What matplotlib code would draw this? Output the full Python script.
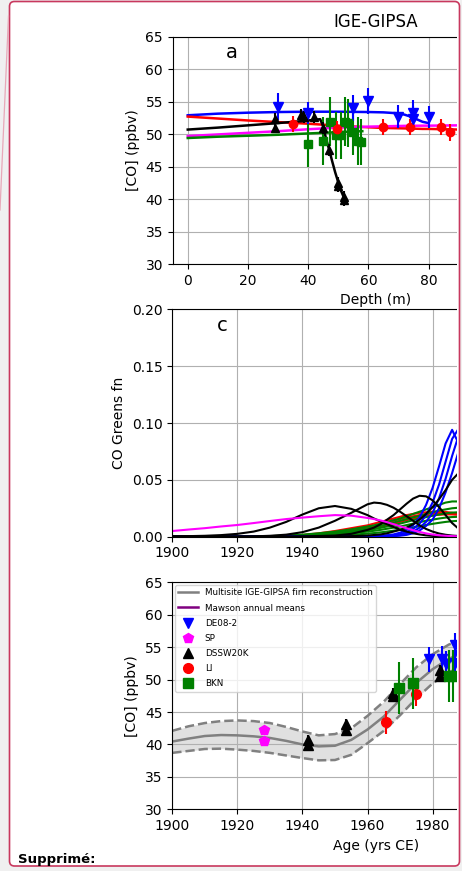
import matplotlib
matplotlib.use('Agg')
import matplotlib.pyplot as plt
from matplotlib.patches import FancyBboxPatch, Rectangle

# ---- panel a: [CO] vs depth, firn model lines and measurements ----
depth_grid = [0, 10, 20, 30, 40, 50, 60, 65, 70, 72, 74, 76, 78, 80, 90, 100, 110, 120]
de08_line = [52.9, 53.15, 53.3, 53.4, 53.45, 53.45, 53.4, 53.35, 53.2, 53.0, 52.7, 52.3, 51.9, 51.7]
li_line = [52.7, 52.4, 52.1, 51.85, 51.6, 51.3, 51.05, 50.95, 50.9, 50.88, 50.85, 50.83, 50.8, 50.8, 50.7, 50.6, 50.5, 50.4]
sp_line = [49.7, 49.95, 50.2, 50.45, 50.75, 51.0, 51.15, 51.2, 51.25, 51.27, 51.28, 51.29, 51.3, 51.3, 51.35, 51.4, 51.4, 51.4]
bkn_depth = [0, 10, 20, 30, 40, 50, 55, 58]
bkn_line = [49.4, 49.6, 49.75, 49.9, 50.1, 50.3, 50.4, 50.45]
dssw_depth = [0, 10, 20, 30, 38, 42, 44, 45, 46, 47, 48, 49, 50, 51, 52]
dssw_line = [50.7, 51.0, 51.35, 51.7, 52.0, 52.2, 52.3, 51.2, 49.2, 47.6, 45.8, 44.1, 42.6, 41.2, 40.1]

de08_z = [30, 40, 55, 60, 70, 75, 75, 80]
de08_co = [54.2, 53.3, 54.0, 55.1, 52.7, 53.3, 52.4, 52.7]
de08_err = [2.1, 1.7, 2.0, 2.0, 1.8, 1.9, 1.9, 1.7]
li_z = [35, 49.5, 65, 74, 84, 87]
li_co = [51.6, 50.8, 51.1, 51.1, 51.1, 50.3]
li_err = [1.2, 1.2, 1.2, 1.3, 1.3, 1.3]
bkn_z = [40, 44.8, 47.4, 49.4, 50.8, 52.2, 53.3, 54.9, 56.6, 57.7]
bkn_co = [48.5, 48.9, 51.9, 49.8, 49.8, 51.9, 51.7, 50.4, 49.0, 48.8]
bkn_err = [3.6, 3.7, 3.8, 3.6, 3.6, 3.8, 3.7, 3.6, 3.7, 3.6]
dssw_z = [29, 29, 37.5, 38.5, 42, 45, 47, 49.8, 50, 51.8, 52]
dssw_co = [52.3, 51.0, 52.9, 52.6, 52.6, 50.9, 47.6, 42.5, 42.0, 40.3, 39.9]
dssw_err = [0.9, 0.9, 0.9, 0.9, 0.9, 0.9, 0.9, 0.9, 0.9, 0.9, 0.9]

# ---- panel c: Greens functions vs age ----
gf_years = [1900, 1905, 1910, 1915, 1920, 1925, 1930, 1935, 1940, 1945, 1950, 1955,
            1960, 1962, 1964, 1966, 1968, 1970, 1972, 1974, 1976, 1978, 1980, 1982,
            1984, 1986, 1988, 1990, 1992, 1994, 1996, 1998, 2000]
gf_sp = [[.005, .0063, .0075, .009, .0103, .012, .0138, .0155, .0168, .018, .019, .0185,
          .0165, .0155, .0143, .0128, .011, .0092, .0074, .0057, .0042, .0029, .0019, .0012,
          .0008, .0005, .0003, .0002, .0001, .0001, 0, 0, 0]]
gf_dssw = [
    [.0003, .0005, .0008, .0014, .0025, .0045, .008, .013, .0195, .025, .027, .0245,
     .019, .016, .0135, .011, .0085, .0062, .0045, .003, .002, .0012, .0007, .0004,
     .0002, .0001, 0, 0, 0, 0, 0, 0, 0],
    [0, 0, 0, 0, .0001, .0003, .0008, .0018, .004, .008, .014, .021,
     .0285, .030, .0295, .028, .0255, .022, .018, .014, .010, .0068, .0045, .0028,
     .0017, .001, .0006, .0003, .0002, .0001, 0, 0, 0],
    [0, 0, 0, 0, 0, 0, 0, .0001, .0003, .0006, .001, .0025,
     .006, .008, .011, .015, .019, .024, .029, .0335, .036, .0355, .032, .026,
     .019, .012, .007, .004, .002, .001, .0005, .0002, 0],
    [0, 0, 0, 0, 0, 0, 0, 0, 0, .0001, .0002, .0005,
     .001, .0015, .002, .003, .0045, .006, .008, .011, .015, .02, .026, .033,
     .041, .050, .056, .055, .047, .035, .022, .012, .006],
]
gf_li = [
    [0, 0, 0, 0, 0, 0, .0003, .0008, .0015, .003, .005, .0075,
     .010, .0115, .013, .0145, .016, .0175, .019, .020, .021, .0215, .022, .022,
     .0218, .021, .0195, .0175, .015, .012, .009, .006, .004],
    [0, 0, 0, 0, 0, 0, .0001, .0004, .001, .002, .0035, .0055,
     .008, .0095, .011, .0125, .014, .0155, .017, .018, .019, .0198, .0205, .0208,
     .0208, .0205, .0198, .018, .016, .013, .010, .007, .005],
    [0, 0, 0, 0, 0, 0, 0, .0002, .0006, .0012, .0022, .0038,
     .006, .007, .0085, .010, .0115, .013, .0145, .016, .017, .018, .0188, .0193,
     .0196, .0196, .0192, .018, .0165, .014, .011, .008, .006],
]
gf_bkn = [
    [0, 0, 0, 0, 0, .0002, .0005, .001, .0018, .003, .0045, .0065,
     .009, .010, .0115, .013, .0145, .016, .018, .020, .022, .024, .026, .028,
     .030, .031, .031, .030, .027, .023, .018, .013, .009],
    [0, 0, 0, 0, 0, .0001, .0003, .0007, .0013, .0022, .0035, .005,
     .0072, .0082, .0095, .011, .0125, .014, .0155, .017, .0185, .020, .0215, .023,
     .024, .025, .0255, .025, .023, .020, .016, .012, .008],
    [0, 0, 0, 0, 0, 0, .0002, .0005, .001, .0017, .0028, .004,
     .0058, .0067, .0078, .009, .0102, .0115, .013, .0145, .016, .0172, .0185, .0195,
     .0205, .0212, .0215, .021, .0195, .017, .014, .011, .008],
    [0, 0, 0, 0, 0, 0, .0001, .0003, .0007, .0012, .002, .003,
     .0045, .0052, .006, .007, .008, .009, .0102, .0115, .0128, .014, .015, .016,
     .0168, .0173, .0175, .0172, .016, .0142, .012, .0095, .007],
    [0, 0, 0, 0, 0, 0, 0, .0001, .0003, .0006, .001, .0017,
     .0027, .0032, .0038, .0045, .0053, .0062, .0072, .0082, .0093, .0103, .0113, .0122,
     .013, .0136, .014, .014, .0132, .012, .0103, .0085, .0065],
]
gf_de08 = [
    [0, 0, 0, 0, 0, 0, 0, 0, 0, 0, 0, .0001,
     .0003, .0005, .0008, .0013, .002, .0035, .006, .010, .017, .028, .043, .062,
     .082, .094, .082, .052, .027, .012, .005, .002, .001],
    [0, 0, 0, 0, 0, 0, 0, 0, 0, 0, 0, 0,
     .0002, .0003, .0005, .0008, .0013, .0022, .004, .0068, .0115, .019, .030, .046,
     .066, .086, .095, .080, .050, .026, .012, .005, .002],
    [0, 0, 0, 0, 0, 0, 0, 0, 0, 0, 0, 0,
     .0001, .0002, .0003, .0005, .0008, .0014, .0025, .0045, .008, .013, .021, .034,
     .051, .071, .089, .094, .078, .050, .026, .012, .005],
    [0, 0, 0, 0, 0, 0, 0, 0, 0, 0, 0, 0,
     0, .0001, .0002, .0003, .0005, .0009, .0016, .003, .0055, .0095, .015, .025,
     .039, .056, .075, .090, .093, .076, .050, .027, .012],
]

# ---- panel e: reconstruction and age-assigned firn data ----
rec_years = [1900, 1905, 1910, 1915, 1920, 1925, 1930, 1935, 1940, 1945, 1950, 1955,
             1960, 1965, 1970, 1975, 1980, 1985, 1990, 1995, 2000]
rec_mid = [40.45, 40.9, 41.3, 41.45, 41.4, 41.25, 41.0, 40.55, 40.0, 39.7, 39.8, 40.7,
           42.3, 44.3, 46.9, 49.5, 51.6, 53.2, 54.3, 54.9, 55.1]
rec_hi = [42.1, 42.8, 43.3, 43.6, 43.7, 43.6, 43.3, 42.7, 42.0, 41.4, 41.6, 42.5,
          44.4, 46.6, 49.3, 51.9, 53.9, 55.4, 56.3, 56.8, 57.0]
rec_lo = [38.7, 39.0, 39.3, 39.35, 39.2, 39.0, 38.7, 38.3, 37.9, 37.55, 37.6, 38.4,
          40.2, 42.1, 44.5, 47.1, 49.4, 51.1, 52.3, 53.0, 53.2]

de08_age = [1979, 1982.8, 1984, 1986.9, 1986.9, 1988]
de08_age_co = [53.1, 53.2, 52.4, 55.4, 52.6, 53.8]
de08_age_err = [1.9, 2.0, 2.0, 1.8, 2.0, 2.0]
sp_age = [1928.3, 1928.3]
sp_age_co = [42.2, 40.5]
sp_age_err = [0.7, 0.7]
dssw_age = [1941.7, 1941.7, 1953.4, 1953.4, 1967.9, 1967.9, 1982.3, 1982.3]
dssw_age_co = [40.7, 39.95, 43.1, 42.2, 47.9, 47.4, 51.5, 50.6]
dssw_age_err = [0.8, 0.8, 0.8, 0.8, 0.8, 0.8, 0.8, 0.8]
li_age = [1965.6, 1974.9]
li_age_co = [43.4, 47.8]
li_age_err = [1.8, 1.9]
bkn_age = [1969.7, 1974.1, 1985.1, 1986.3]
bkn_age_co = [48.7, 49.4, 50.6, 50.6]
bkn_age_err = [4.0, 4.0, 4.0, 4.0]


W, H = 462, 871
fig = plt.figure(figsize=(W / 100, H / 100), dpi=100)
fig.patch.set_facecolor('#f0f0f0')

red = '#c8385e'

# comment balloon background
bg = fig.add_axes([0, 0, 1, 1], zorder=-10)
bg.set_xlim(0, W)
bg.set_ylim(H, 0)
bg.axis('off')
bg.add_patch(FancyBboxPatch((9.5, 1.5), 450, 864.5,
                            boxstyle='round,pad=0,rounding_size=5', fc='white', ec='none'))


def box(left, top, right, bottom):
    return [left / W, 1 - bottom / H, (right - left) / W, (bottom - top) / H]


plt.rcParams['font.size'] = 10

# panel a
ax = fig.add_axes(box(172.7, 36.7, 579, 264))
ax.plot(depth_grid[:len(de08_line)], de08_line, color='blue', lw=1.8)
ax.plot(depth_grid, li_line, color='red', lw=1.8)
ax.plot(depth_grid, sp_line, color='magenta', lw=1.8)
ax.plot(bkn_depth, bkn_line, color='green', lw=1.8)
ax.plot(dssw_depth, dssw_line, color='black', lw=1.8)
ax.errorbar(bkn_z, bkn_co, yerr=bkn_err, fmt='s', color='green', ms=6, elinewidth=1.5)
ax.errorbar(li_z, li_co, yerr=li_err, fmt='o', color='red', ms=6, elinewidth=1.5)
ax.errorbar(dssw_z, dssw_co, yerr=dssw_err, fmt='^', color='black', ms=6, elinewidth=1.5)
ax.errorbar(de08_z, de08_co, yerr=de08_err, fmt='v', color='blue', ms=7, elinewidth=1.5)
ax.set_xlim(-5, 130)
ax.set_ylim(30, 65)
ax.set_xticks([0, 20, 40, 60, 80])
ax.set_yticks([30, 35, 40, 45, 50, 55, 60, 65])
ax.grid(True)
ax.set_xlabel('Depth (m)')
ax.set_ylabel('[CO] (ppbv)')
ax.set_title('IGE-GIPSA', fontsize=12, pad=7)
ax.text(0.146, 0.93, 'a', transform=ax.transAxes, fontsize=14, ha='center', va='center')

# panel c
ax = fig.add_axes(box(172.3, 309.3, 579, 536.7))
for curves, col in [(gf_li, 'red'), (gf_bkn, 'green'), (gf_de08, 'blue'),
                    (gf_dssw, 'black'), (gf_sp, 'magenta')]:
    for g in curves:
        ax.plot(gf_years, g, color=col, lw=1.5)
ax.set_xlim(1900, 2025)
ax.set_ylim(0, 0.2)
ax.set_xticks([1900, 1920, 1940, 1960, 1980])
ax.set_yticks([0, 0.05, 0.10, 0.15, 0.20])
ax.set_yticklabels(['0.00', '0.05', '0.10', '0.15', '0.20'])
ax.grid(True)
ax.set_ylabel('CO Greens fn')
ax.text(0.124, 0.93, 'c', transform=ax.transAxes, fontsize=14, ha='center', va='center')

# panel e
ax = fig.add_axes(box(172.3, 582.3, 579, 809.3))
ax.fill_between(rec_years, rec_lo, rec_hi, color='#d3d3d3', alpha=0.7, lw=0)
ax.plot(rec_years, rec_hi, color='gray', ls='--', lw=1.8)
ax.plot(rec_years, rec_lo, color='gray', ls='--', lw=1.8)
ax.plot(rec_years, rec_mid, color='gray', lw=1.8, label='Multisite IGE-GIPSA firn reconstruction')
ax.plot([], [], color='purple', lw=1.8, label='Mawson annual means')
for x, y, e, m, col, name in [(de08_age, de08_age_co, de08_age_err, 'v', 'blue', 'DE08-2'),
                              (sp_age, sp_age_co, sp_age_err, 'p', 'magenta', 'SP'),
                              (dssw_age, dssw_age_co, dssw_age_err, '^', 'black', 'DSSW20K'),
                              (li_age, li_age_co, li_age_err, 'o', 'red', 'LI'),
                              (bkn_age, bkn_age_co, bkn_age_err, 's', 'green', 'BKN')]:
    ax.errorbar(x, y, yerr=e, fmt='none', ecolor=col, elinewidth=1.5)
    ax.plot(x, y, ls='none', marker=m, color=col, ms=7, label=name)
ax.set_xlim(1900, 2025)
ax.set_ylim(30, 65)
ax.set_xticks([1900, 1920, 1940, 1960, 1980])
ax.set_yticks([30, 35, 40, 45, 50, 55, 60, 65])
ax.grid(True)
ax.set_xlabel('Age (yrs CE)')
ax.set_ylabel('[CO] (ppbv)')
ax.legend(loc='upper left', fontsize=6.3, markerscale=1.0, labelspacing=0.7,
          handlelength=2.2, borderaxespad=0.3)

# balloon border, clipped right edge and label
top = fig.add_axes([0, 0, 1, 1], zorder=10)
top.set_xlim(0, W)
top.set_ylim(H, 0)
top.axis('off')
top.add_patch(Rectangle((456.5, 0), 3.5, H, fc='white', ec='none'))
top.add_patch(Rectangle((460, 0), 2, H, fc='#f0f0f0', ec='none'))
top.add_patch(Rectangle((0, 866), W, 5, fc='#f0f0f0', ec='none'))
top.add_patch(FancyBboxPatch((9.5, 1.5), 450, 864.5,
                             boxstyle='round,pad=0,rounding_size=5', fc='none', ec=red, lw=1.2))
top.plot([8.5, 0], [16, 210], color='#e8a8b8', lw=0.9)
top.text(18, 863, 'Supprimé:', fontsize=9.5, fontweight='bold', ha='left', va='baseline')

fig.savefig('out.png', dpi=100, facecolor=fig.get_facecolor())
